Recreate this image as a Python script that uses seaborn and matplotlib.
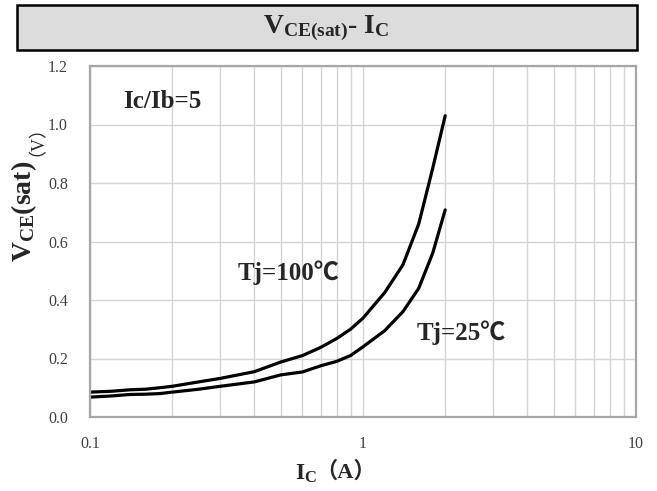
import numpy as np
import pandas as pd
import matplotlib
matplotlib.use("Agg")
import matplotlib.pyplot as plt
from matplotlib.patches import Rectangle
from matplotlib.ticker import FixedLocator, NullFormatter
import seaborn as sns

# data
ic = [0.1, 0.12, 0.14, 0.16, 0.18, 0.2, 0.25, 0.3, 0.4, 0.5,
      0.6, 0.7, 0.8, 0.9, 1.0, 1.2, 1.4, 1.6, 1.8, 2.0]
vce_100 = [0.085, 0.088, 0.093, 0.095, 0.100, 0.105, 0.120, 0.132, 0.155, 0.188,
           0.210, 0.238, 0.268, 0.300, 0.338, 0.425, 0.520, 0.660, 0.850, 1.030]
vce_25 = [0.068, 0.072, 0.077, 0.078, 0.080, 0.085, 0.095, 0.105, 0.120, 0.144,
          0.154, 0.175, 0.190, 0.210, 0.240, 0.295, 0.360, 0.440, 0.560, 0.708]
series_labels = ["Tj=100℃", "Tj=25℃"]
y_ticks = [0.0, 0.2, 0.4, 0.6, 0.8, 1.0, 1.2]
x_ticks = [0.1, 1, 10]

df = pd.DataFrame({
    "Ic": ic * 2,
    "Vce": vce_100 + vce_25,
    "Tj": [series_labels[0]] * len(ic) + [series_labels[1]] * len(ic),
})

sns.set_style("white")
plt.rcParams["font.family"] = ["Liberation Serif", "Noto Sans CJK SC", "DejaVu Sans"]
plt.rcParams["mathtext.fontset"] = "custom"
plt.rcParams["mathtext.rm"] = "Liberation Serif"
plt.rcParams["mathtext.bf"] = "Liberation Serif:bold"
plt.rcParams["mathtext.it"] = "Liberation Serif:italic"
cjk = ["Liberation Serif", "Noto Sans CJK SC"]

fig = plt.figure(figsize=(6.57, 4.91), dpi=100)
ax = fig.add_axes([90 / 657, 1 - 417 / 491, 546 / 657, 351 / 491])

sns.lineplot(data=df, x="Ic", y="Vce", hue="Tj", palette=["black", "black"],
             linewidth=2.3, legend=False, ax=ax)

ax.set_xscale("log")
ax.set_xlim(0.1, 10)
ax.set_ylim(0, 1.2)
ax.xaxis.set_major_locator(FixedLocator(x_ticks))
ax.xaxis.set_minor_locator(FixedLocator([m * d for d in (0.1, 1) for m in range(2, 10)]))
ax.xaxis.set_minor_formatter(NullFormatter())
ax.set_xticks(x_ticks)
ax.set_xticklabels(["0.1", "1", "10"])
ax.set_yticks(y_ticks)
ax.set_yticklabels([f"{v:.1f}" for v in y_ticks])
ax.tick_params(axis="both", which="both", length=0, labelsize=11.5, labelcolor="#404040")
ax.tick_params(axis="x", pad=14)
ax.tick_params(axis="y", pad=16)
ax.grid(True, which="both", color="#d4d4d4", linewidth=1)
for s in ax.spines.values():
    s.set_color("#a6a6a6")
    s.set_linewidth(1.6)
ax.set_xlabel("")
ax.set_ylabel("")

# annotations
ax.text(0.132, 1.077, "Ic/Ib=5", fontsize=18, fontweight="bold", va="center")
ax.text(0.348, 0.492, series_labels[0], fontsize=18, fontweight="bold", ha="left", va="center",
        family=cjk)
ax.text(1.575, 0.287, series_labels[1], fontsize=18, fontweight="bold", ha="left", va="center",
        family=cjk)

# title box
fig.patches.append(Rectangle((17 / 657, 1 - 50 / 491), 620 / 657, 45 / 491,
                             transform=fig.transFigure, facecolor="#dcdcdc",
                             edgecolor="black", linewidth=1.8))
fig.text(326 / 657, 1 - 28 / 491, r"$\mathbf{V_{CE(sat)}}$" + r"- $\mathbf{I_C}$",
         fontsize=20, fontweight="bold", ha="center", va="center")

# axis labels
fig.text(24 / 657, 1 - 211 / 491, r"$\mathbf{V_{CE}(sat)}$", fontsize=20,
         rotation=90, ha="center", va="center")
fig.text(28 / 657, 1 - 132 / 491, "（V）", fontsize=13, rotation=90,
         ha="center", va="center", family=cjk)
fig.text(317 / 657, 1 - 474 / 491, r"$\mathbf{I_C}$", fontsize=17,
         ha="right", va="center")
fig.text(315 / 657, 1 - 472 / 491, "（A）", fontsize=16, fontweight="bold",
         ha="left", va="center", family=cjk)

fig.savefig("out.png", dpi=100)
